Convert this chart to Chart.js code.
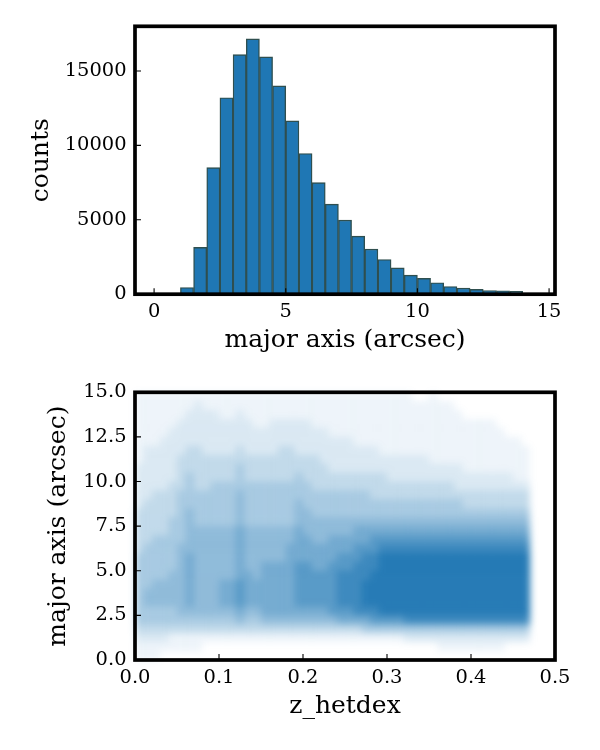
<!DOCTYPE html>
<html>
<head>
<meta charset="utf-8">
<script src="https://cdn.jsdelivr.net/npm/chart.js@4.4.1/dist/chart.umd.min.js"></script>
<style>
  html, body { margin: 0; padding: 0; background: #fff; }
  #wrap { position: relative; width: 600px; height: 750px; }
  canvas { position: absolute; left: 0; }
  #hist { top: 0; }
  #scat { top: 360px; }
</style>
</head>
<body>
<div id="wrap">
  <canvas id="hist" width="600" height="360"></canvas>
  <canvas id="scat" width="600" height="390"></canvas>
</div>
<script>
// top panel: histogram of major axis, 0.5 arcsec bins
const binStarts = [0, 0.5, 1, 1.5, 2, 2.5, 3, 3.5, 4, 4.5, 5, 5.5, 6, 6.5, 7, 7.5, 8, 8.5, 9, 9.5, 10, 10.5, 11, 11.5, 12, 12.5, 13, 13.5, 14];
const binCounts = [0, 0, 450, 3150, 8500, 13200, 16100, 17150, 15950, 14000, 11650, 9450, 7500, 6050, 4980, 3900, 3030, 2330, 1770, 1280, 1060, 770, 520, 410, 320, 250, 230, 190, 40];
const binWidth = 0.5;
const histXTicks = [0, 5, 10, 15];
const histYTicks = [0, 5000, 10000, 15000];

// bottom panel: how crowded the z_hetdex / major axis scatter looks,
// one row per 0.5 arcsec (from 15 down to 0), one digit (0-9) per 0.01 in z
const zStep = 0.01;
const axisStep = 0.5;
const densityRows = [
  "11111 11111 11111 11111 11111 11111 11100 10000 00000 00",
  "11111 11211 11111 11111 11111 11111 11111 11100 00000 00",
  "11111 12222 11211 11111 11111 11111 11111 11110 00000 00",
  "11111 22222 22221 12222 21111 11111 11111 11111 11100 00",
  "11112 22222 22222 22222 22211 11111 11111 11111 11110 00",
  "11122 22222 22222 22222 22222 21111 11111 11111 11111 10",
  "12222 23322 22322 22332 22222 22221 11111 11111 11111 11",
  "12222 33333 33333 33333 33222 22222 22222 11111 11111 11",
  "22222 33333 33433 33333 33322 22222 22222 22221 11111 11",
  "22222 34333 33433 33334 33333 33333 22222 22222 22222 11",
  "22223 34334 44444 44444 43333 33333 33333 33322 22222 22",
  "22333 44444 44544 44444 44444 44433 33333 33333 33333 33",
  "23333 44444 44544 44445 44444 44444 44444 44443 33333 33",
  "33333 45444 44544 44445 54444 44444 44444 44444 44444 44",
  "33334 45444 44544 44445 55555 55555 55555 55555 55555 55",
  "33334 45555 55655 55556 55555 56666 66666 66666 66666 66",
  "33444 45555 55655 55556 65566 66677 77777 77777 77777 77",
  "34444 55555 55655 55566 66666 67778 88888 88888 88888 88",
  "44444 56555 55655 55566 66667 77889 99999 99999 99999 99",
  "44444 56555 55655 66667 76677 78889 99999 99999 99999 99",
  "44445 56555 55665 66667 77778 88899 99999 99999 99999 99",
  "44555 56555 66766 66667 77778 88999 99999 99999 99999 99",
  "45555 56555 66766 66667 77778 88999 99999 99999 99999 99",
  "45555 56555 66766 66667 77778 88999 99999 99999 99999 99",
  "44444 55555 55655 66666 66677 78889 99999 99999 99999 99",
  "44444 44444 44544 55555 55556 66677 77888 88888 88888 88",
  "33333 33333 33333 33333 33333 33444 44444 44444 44444 44",
  "22221 11111 11111 11111 11111 11111 11222 22222 22222 22",
  "11111 11100 00000 00000 00000 00000 00000 01111 11110 00",
  "11100 00000 00000 00000 00000 00000 00000 00000 00000 00"
];
const scatXTicks = [0, 0.1, 0.2, 0.3, 0.4, 0.5];
const scatYTicks = [0, 2.5, 5, 7.5, 10, 12.5, 15];

const densityAlpha = [0, 0.07, 0.15, 0.25, 0.36, 0.47, 0.59, 0.72, 0.85, 0.97];

const histPoints = binStarts.map((s, i) => ({x: s + binWidth / 2, y: binCounts[i]}));

const cells = [];
densityRows.forEach((row, i) => {
  const digits = row.replace(/ /g, '');
  const yc = 15 - (i + 0.5) * axisStep;
  for (let j = 0; j < digits.length; j++) {
    const d = +digits[j];
    if (d > 0) cells.push({x: (j + 0.5) * zStep, y: yc, d: d});
  }
});

const serif = 'DejaVu Serif';
const tickFont = {family: serif, size: 19.44};
const titleFont = {family: serif, size: 25};

// spines all round, ticks pointing in
const frame = {
  id: 'frame',
  afterDraw(chart) {
    const {ctx, chartArea: a, scales} = chart;
    ctx.save();
    ctx.strokeStyle = '#000';
    ctx.lineWidth = 1.1;
    ctx.beginPath();
    scales.x.ticks.forEach(t => {
      const px = scales.x.getPixelForValue(t.value);
      ctx.moveTo(px, a.bottom);
      ctx.lineTo(px, a.bottom - 6);
    });
    scales.y.ticks.forEach(t => {
      const py = scales.y.getPixelForValue(t.value);
      ctx.moveTo(a.left, py);
      ctx.lineTo(a.left + 6, py);
    });
    ctx.stroke();
    ctx.lineWidth = 3.7;
    ctx.strokeRect(a.left, a.top, a.right - a.left, a.bottom - a.top);
    ctx.restore();
  }
};

// soften the density cells so they read like a cloud of points
const soften = {
  id: 'soften',
  afterDatasetsDraw(chart) {
    const {ctx, chartArea: a} = chart;
    const dpr = chart.currentDevicePixelRatio || 1;
    const w = a.right - a.left, h = a.bottom - a.top;
    const tmp = document.createElement('canvas');
    tmp.width = Math.round(w * dpr);
    tmp.height = Math.round(h * dpr);
    tmp.getContext('2d').drawImage(chart.canvas, a.left * dpr, a.top * dpr, w * dpr, h * dpr, 0, 0, tmp.width, tmp.height);
    ctx.save();
    ctx.clearRect(a.left, a.top, w, h);
    ctx.filter = 'blur(3.5px)';
    ctx.drawImage(tmp, a.left, a.top, w, h);
    ctx.restore();
  }
};

function axisTitle(text, padding) {
  return {display: true, text: text, color: '#000', font: titleFont, padding: padding};
}

new Chart(document.getElementById('hist'), {
  type: 'bar',
  data: {
    datasets: [{
      data: histPoints,
      backgroundColor: '#1f77b4',
      borderColor: '#2f4f4f',
      borderWidth: 1.4,
      borderSkipped: false,
      barPercentage: 1,
      categoryPercentage: 1
    }]
  },
  options: {
    responsive: false,
    animation: false,
    events: [],
    layout: {padding: {top: 26.3, right: 45, left: 0, bottom: 0}},
    plugins: {legend: {display: false}, tooltip: {enabled: false}},
    scales: {
      x: {
        type: 'linear',
        offset: false,
        min: -0.725,
        max: 15.225,
        afterFit: s => { s.height = 65.8; },
        afterBuildTicks: s => { s.ticks = histXTicks.map(v => ({value: v})); },
        grid: {display: false, drawTicks: false},
        border: {display: false},
        ticks: {color: '#000', font: tickFont, padding: 6, maxRotation: 0, callback: v => String(v)},
        title: axisTitle('major axis (arcsec)', {top: 0, bottom: 4.5})
      },
      y: {
        min: 0,
        max: 18000,
        afterFit: s => { s.width = 135; },
        afterBuildTicks: s => { s.ticks = histYTicks.map(v => ({value: v})); },
        grid: {display: false, drawTicks: false},
        border: {display: false},
        ticks: {color: '#000', font: tickFont, padding: 8.5, callback: v => String(v)},
        title: axisTitle('counts', {top: 26.3, bottom: 0})
      }
    }
  },
  plugins: [frame]
});

new Chart(document.getElementById('scat'), {
  type: 'scatter',
  data: {
    datasets: [{
      data: cells,
      pointStyle: 'rect',
      pointRadius: 6.5,
      pointBorderWidth: 0,
      borderColor: 'rgba(0,0,0,0)',
      backgroundColor: c => 'rgba(31,119,180,' + densityAlpha[c.raw ? c.raw.d : 0] + ')'
    }]
  },
  options: {
    responsive: false,
    animation: false,
    events: [],
    layout: {padding: {top: 32.3, right: 45, left: 0, bottom: 0}},
    plugins: {legend: {display: false}, tooltip: {enabled: false}},
    scales: {
      x: {
        type: 'linear',
        min: 0,
        max: 0.5,
        afterFit: s => { s.height = 90; },
        afterBuildTicks: s => { s.ticks = scatXTicks.map(v => ({value: v})); },
        grid: {display: false, drawTicks: false},
        border: {display: false},
        ticks: {color: '#000', font: tickFont, padding: 6, maxRotation: 0, callback: v => v.toFixed(1)},
        title: axisTitle('z_hetdex', {top: 0, bottom: 29})
      },
      y: {
        min: 0,
        max: 15,
        afterFit: s => { s.width = 135; },
        afterBuildTicks: s => { s.ticks = scatYTicks.map(v => ({value: v})); },
        grid: {display: false, drawTicks: false},
        border: {display: false},
        ticks: {color: '#000', font: tickFont, padding: 8.5, callback: v => v.toFixed(1)},
        title: axisTitle('major axis (arcsec)', {top: 43.3, bottom: 0})
      }
    }
  },
  plugins: [soften, frame]
});
</script>
</body>
</html>
